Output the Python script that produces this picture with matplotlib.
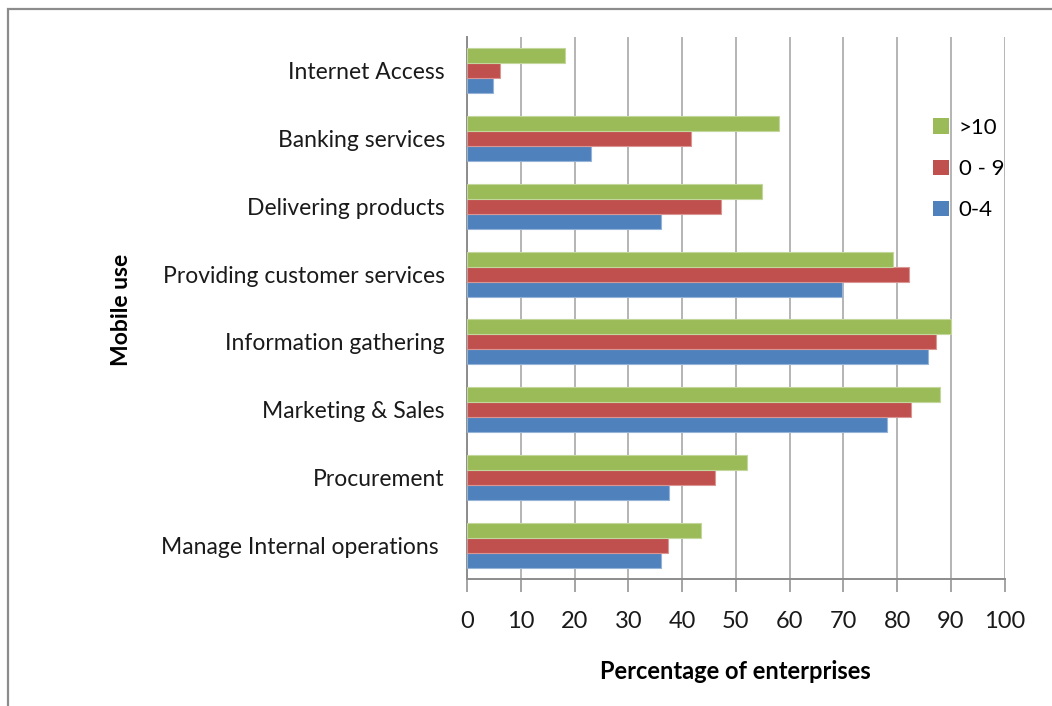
import matplotlib
matplotlib.use("Agg")
import matplotlib.pyplot as plt
import numpy as np
from matplotlib.patches import Rectangle, Patch

plt.rcParams['font.family'] = ['Lato', 'DejaVu Sans']

# Mobile use categories, bottom to top
categories = [
    "Manage Internal operations ",
    "Procurement",
    "Marketing & Sales",
    "Information gathering",
    "Providing customer services",
    "Delivering products",
    "Banking services",
    "Internet Access",
]

# Percentage of enterprises by firm size
size_0_4 = [36.0, 37.5, 78.2, 85.8, 69.7, 36.0, 23.0, 4.8]
size_0_9 = [37.4, 46.1, 82.5, 87.2, 82.2, 47.3, 41.6, 6.2]
size_gt10 = [43.6, 52.1, 87.9, 90.0, 79.3, 54.8, 58.0, 18.3]

series_labels = [">10", "0 - 9", "0-4"]
colors = {">10": "#9BBB59", "0 - 9": "#C0504D", "0-4": "#4F81BD"}
edges = {">10": "#C3D69B", "0 - 9": "#D99694", "0-4": "#95B3D7"}

xticks = list(range(0, 101, 10))

W, H = 1052, 706
fig = plt.figure(figsize=(W / 100, H / 100), dpi=100)

# Outer chart frame
fig.patches.append(Rectangle((8 / W, -0.1), 1.2, (H - 9) / H + 0.1,
                             transform=fig.transFigure, fill=False,
                             edgecolor="#8c8c8c", linewidth=1.6))

left, right, top, bottom = 467, 1004.6, 37, 579
ax = fig.add_axes([left / W, (H - bottom) / H, (right - left) / W, (bottom - top) / H])

y = np.arange(len(categories))
bh = 0.222
ax.barh(y - bh, size_0_4, height=bh, color=colors["0-4"], edgecolor=edges["0-4"], linewidth=0.8, zorder=3)
ax.barh(y, size_0_9, height=bh, color=colors["0 - 9"], edgecolor=edges["0 - 9"], linewidth=0.8, zorder=3)
ax.barh(y + bh, size_gt10, height=bh, color=colors[">10"], edgecolor=edges[">10"], linewidth=0.8, zorder=3)

ax.set_xlim(0, 100)
ax.set_ylim(-0.5, len(categories) - 0.5)
ax.set_xticks(xticks)
ax.set_xticklabels([str(t) for t in xticks], fontsize=17, color="#1a1a1a")
ax.set_yticks(y)
ax.set_yticklabels(categories, fontsize=16.5, color="#1a1a1a")

ax.xaxis.grid(True, color="#a0a0a0", linewidth=1.1, zorder=0)
ax.set_axisbelow(True)
for s in ("top", "right"):
    ax.spines[s].set_visible(False)
for s in ("left", "bottom"):
    ax.spines[s].set_color("#8c8c8c")
    ax.spines[s].set_linewidth(1.4)
ax.tick_params(axis="y", length=0, pad=16)
ax.tick_params(axis="x", length=9, width=1.1, color="#8c8c8c", pad=14, direction="out")

ax.set_xlabel("Percentage of enterprises", fontsize=17, fontweight="bold", labelpad=20)
fig.text(122 / W, (H - 310) / H, "Mobile use", rotation=90, fontsize=16.5,
         fontweight="bold", ha="center", va="center")

handles = [Patch(facecolor=colors[k], edgecolor="none") for k in series_labels]
fig.legend(handles, series_labels, loc="upper left",
           bbox_to_anchor=(913 / W, (H - 98) / H), frameon=False,
           fontsize=16, handlelength=0.7, handleheight=0.7,
           handletextpad=0.45, labelspacing=0.95)

fig.savefig("out.png", dpi=100)
